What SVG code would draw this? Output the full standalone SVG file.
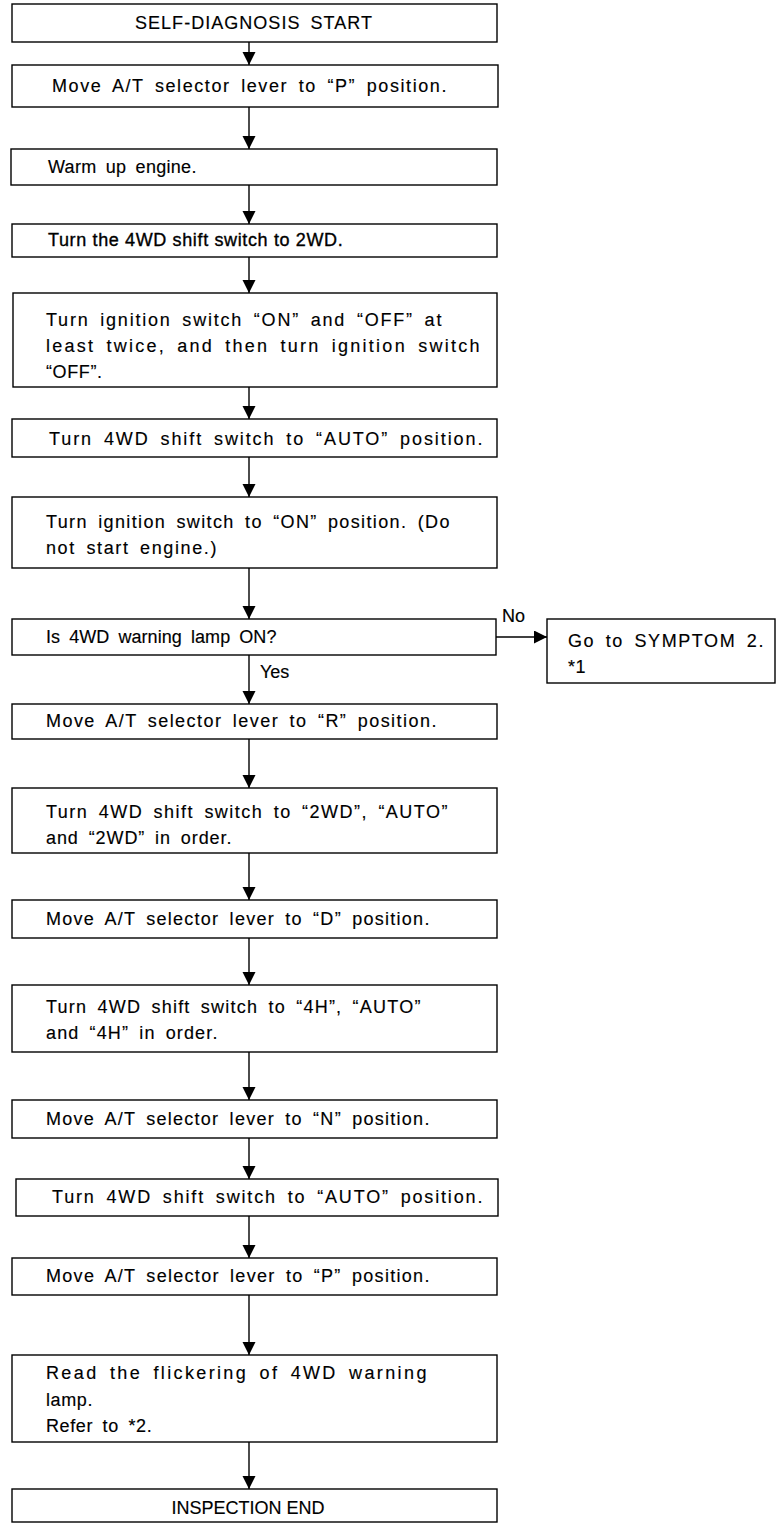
<svg xmlns="http://www.w3.org/2000/svg" width="776" height="1524" viewBox="0 0 776 1524">
<style>
.box{fill:#fff;stroke:#000;stroke-width:1.4}
.t{font-family:"Liberation Sans",Arial,sans-serif;font-size:18px;fill:#000;stroke:#000;stroke-width:0.15;letter-spacing:0.6px;word-spacing:4px}
.c{stroke:#000;stroke-width:1.4;fill:none;marker-end:url(#ah)}
</style>
<defs>
<marker id="ah" markerUnits="userSpaceOnUse" markerWidth="14" markerHeight="14" refX="13" refY="6.5" orient="auto"><path d="M0,0 L13,6.5 L0,13 z" fill="#000"/></marker>
</defs>
<rect width="776" height="1524" fill="#fff"/>
<g id="connectors">
<line class="c" x1="249" y1="42" x2="249" y2="65"/>
<line class="c" x1="249" y1="107" x2="249" y2="149"/>
<line class="c" x1="249" y1="185" x2="249" y2="224"/>
<line class="c" x1="249" y1="257" x2="249" y2="293"/>
<line class="c" x1="249" y1="387" x2="249" y2="419"/>
<line class="c" x1="249" y1="457" x2="249" y2="497"/>
<line class="c" x1="249" y1="568" x2="249" y2="619"/>
<line class="c" x1="496" y1="637" x2="547" y2="637"/>
<line class="c" x1="249" y1="655" x2="249" y2="704"/>
<line class="c" x1="249" y1="739" x2="249" y2="788"/>
<line class="c" x1="249" y1="853" x2="249" y2="900"/>
<line class="c" x1="249" y1="938" x2="249" y2="985"/>
<line class="c" x1="249" y1="1052" x2="249" y2="1100"/>
<line class="c" x1="249" y1="1138" x2="249" y2="1179"/>
<line class="c" x1="249" y1="1216" x2="249" y2="1258"/>
<line class="c" x1="249" y1="1295" x2="249" y2="1355"/>
<line class="c" x1="249" y1="1442" x2="249" y2="1489"/>
<text class="t" x="502" y="622" style="letter-spacing:0">No</text>
<text class="t" x="260" y="678" style="letter-spacing:0">Yes</text>
</g>
<g id="n1"><rect class="box" x="12" y="4" width="485" height="38"/><text class="t" x="135" y="29" textLength="237" lengthAdjust="spacing" style="letter-spacing:0">SELF-DIAGNOSIS START</text></g>
<g id="n2"><rect class="box" x="12" y="65" width="486" height="42"/><text class="t" x="52" y="92" textLength="395" lengthAdjust="spacing">Move A/T selector lever to “P” position.</text></g>
<g id="n3"><rect class="box" x="11" y="149" width="486" height="36"/><text class="t" x="48" y="173" textLength="149" lengthAdjust="spacing">Warm up engine.</text></g>
<g id="n4"><rect class="box" x="12" y="224" width="485" height="33"/><text class="t" x="48" y="246" textLength="295" lengthAdjust="spacing" style="letter-spacing:0.3px;word-spacing:0;stroke-width:0.35">Turn the 4WD shift switch to 2WD.</text></g>
<g id="n5"><rect class="box" x="13" y="293" width="484" height="94"/>
<text class="t" x="46" y="326" textLength="396" lengthAdjust="spacing">Turn ignition switch “ON” and “OFF” at</text>
<text class="t" x="46" y="352" textLength="434" lengthAdjust="spacing">least twice, and then turn ignition switch</text>
<text class="t" x="46" y="378">“OFF”.</text></g>
<g id="n6"><rect class="box" x="12" y="419" width="485" height="38"/><text class="t" x="49" y="445" textLength="434" lengthAdjust="spacing">Turn 4WD shift switch to “AUTO” position.</text></g>
<g id="n7"><rect class="box" x="12" y="497" width="485" height="71"/>
<text class="t" x="46" y="528" textLength="404" lengthAdjust="spacing">Turn ignition switch to “ON” position. (Do</text>
<text class="t" x="46" y="554" textLength="171" lengthAdjust="spacing">not start engine.)</text></g>
<g id="n8"><rect class="box" x="12" y="619" width="484" height="36"/><text class="t" x="46" y="643" textLength="231" lengthAdjust="spacing">Is 4WD warning lamp ON?</text></g>
<g id="n8b"><rect class="box" x="547" y="619" width="228" height="64"/>
<text class="t" x="568" y="647" textLength="196" lengthAdjust="spacing">Go to SYMPTOM 2.</text>
<text class="t" x="568" y="673">*1</text></g>
<g id="n9"><rect class="box" x="12" y="704" width="485" height="35"/><text class="t" x="46" y="727" textLength="391" lengthAdjust="spacing">Move A/T selector lever to “R” position.</text></g>
<g id="n10"><rect class="box" x="12" y="788" width="485" height="65"/>
<text class="t" x="46" y="818" textLength="402" lengthAdjust="spacing">Turn 4WD shift switch to “2WD”, “AUTO”</text>
<text class="t" x="46" y="844" textLength="186" lengthAdjust="spacing">and “2WD” in order.</text></g>
<g id="n11"><rect class="box" x="12" y="900" width="485" height="38"/><text class="t" x="46" y="925" textLength="384" lengthAdjust="spacing">Move A/T selector lever to “D” position.</text></g>
<g id="n12"><rect class="box" x="12" y="985" width="485" height="67"/>
<text class="t" x="46" y="1013" textLength="375" lengthAdjust="spacing">Turn 4WD shift switch to “4H”, “AUTO”</text>
<text class="t" x="46" y="1039" textLength="172" lengthAdjust="spacing">and “4H” in order.</text></g>
<g id="n13"><rect class="box" x="12" y="1100" width="485" height="38"/><text class="t" x="46" y="1125" textLength="384" lengthAdjust="spacing">Move A/T selector lever to “N” position.</text></g>
<g id="n14"><rect class="box" x="16" y="1179" width="482" height="37"/><text class="t" x="52" y="1203" textLength="431" lengthAdjust="spacing">Turn 4WD shift switch to “AUTO” position.</text></g>
<g id="n15"><rect class="box" x="12" y="1258" width="485" height="37"/><text class="t" x="46" y="1282" textLength="384" lengthAdjust="spacing">Move A/T selector lever to “P” position.</text></g>
<g id="n16"><rect class="box" x="12" y="1355" width="485" height="87"/>
<text class="t" x="46" y="1379" textLength="381" lengthAdjust="spacing">Read the flickering of 4WD warning</text>
<text class="t" x="46" y="1406">lamp.</text>
<text class="t" x="46" y="1432">Refer to *2.</text></g>
<g id="n17"><rect class="box" x="12" y="1489" width="485" height="33"/><text class="t" x="248" y="1514" text-anchor="middle" style="letter-spacing:0;word-spacing:0">INSPECTION END</text></g>
</svg>
